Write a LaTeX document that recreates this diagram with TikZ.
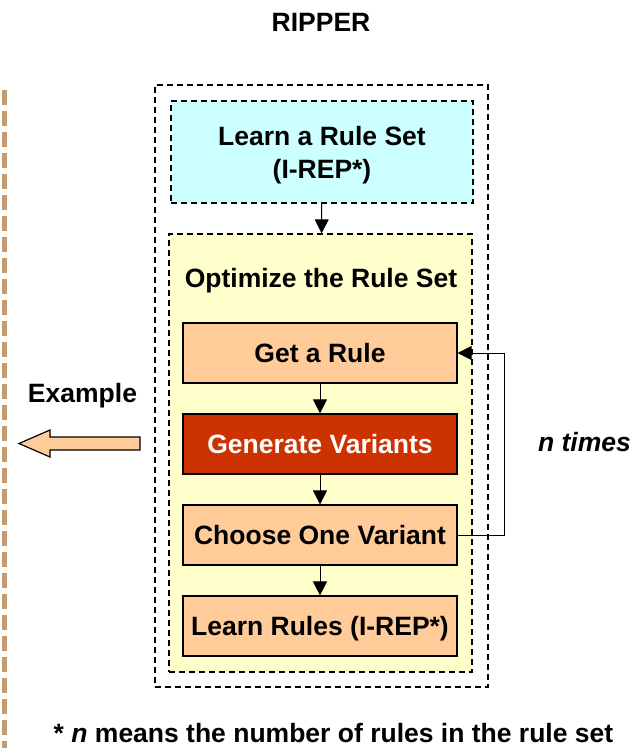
\documentclass[tikz,border=0pt]{standalone}
\usepackage{fontspec}
\setmainfont{Liberation Sans}
\usetikzlibrary{arrows.meta,positioning}
\definecolor{cyanbg}{HTML}{CCFFFF}
\definecolor{yellowbg}{HTML}{FFFFCC}
\definecolor{peach}{HTML}{FFCC99}
\definecolor{rust}{HTML}{CC3300}
\definecolor{tan}{HTML}{C49C72}

\begin{document}
\begin{tikzpicture}[x=1pt,y=-1pt,
  every node/.style={font=\bfseries\fontsize{26.5}{33}\selectfont,text height=19pt,text depth=0pt},
  dashbox/.style={draw,line width=1.3pt,dash pattern=on 6pt off 4pt,inner sep=0pt},
  stepbox/.style={draw,line width=1.2pt,minimum width=274pt,minimum height=60pt,inner sep=0pt},
  flow/.style={line width=1pt,-{Triangle[length=14pt,width=14pt]}}]
\useasboundingbox (0,0) rectangle (643,748);
\node (title) at (321,22){RIPPER};
\node[dashbox,minimum width=333pt,minimum height=602pt] (ripper) at (321.5,386){};
\node[dashbox,fill=cyanbg,minimum width=302pt,minimum height=102pt,align=center,text height=52pt] (learnset) at (322,152){Learn a Rule Set\\(I-REP*)};
\node[dashbox,fill=yellowbg,minimum width=303pt,minimum height=438pt] (opt) at (320.5,453){};
\node (optlab) at (321,278){Optimize the Rule Set};
\foreach \y/\nm/\fc/\tc/\lab in {353/get/peach/black/Get a Rule,444/gen/rust/white/Generate Variants,535/choose/peach/black/Choose One Variant,626/learn/peach/black/Learn Rules (I-REP*)}{\node[stepbox,fill=\fc,text=\tc] (\nm) at (320,\y){\lab};}
\draw[flow] (learnset) -- (opt);
\foreach \a/\b in {get/gen,gen/choose,choose/learn}{\draw[flow] (\a) -- (\b);}
\draw[flow] (choose.east) -- ++(47,0) |- (get.east);
\node (times) at (584.5,442){\textit{n times}};
\node (example) at (82.5,393){Example};
\draw[line width=1.2pt,fill=peach] (140,437)--(50,437)--(50,430)--(19,443.5)--(50,457)--(50,450)--(140,450)--cycle;
\draw[tan,line width=5pt,dash pattern=on 15pt off 6pt] (4,90)--(4,748);
\node (note) at (333.5,733){* \textit{n} means the number of rules in the rule set};
\end{tikzpicture}
\end{document}
